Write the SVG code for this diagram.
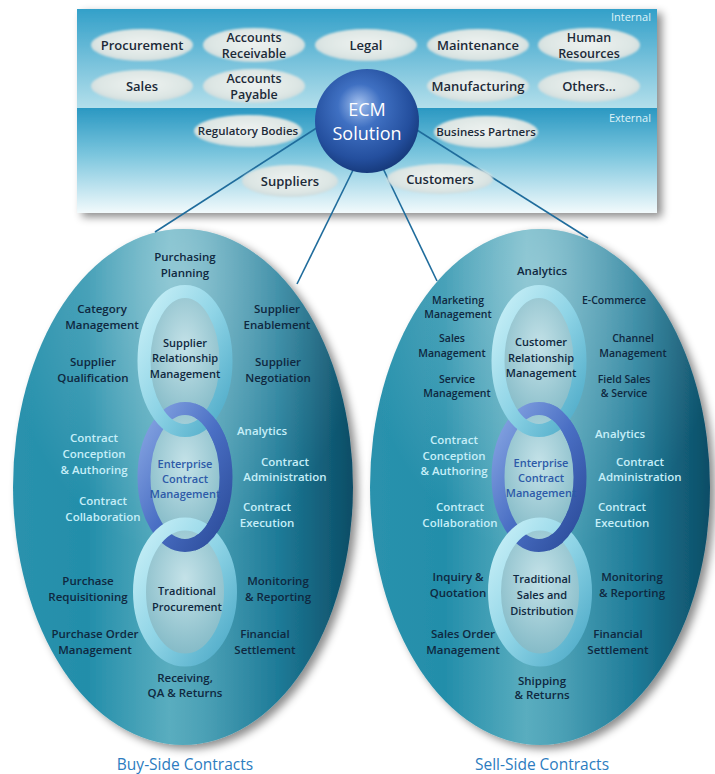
<svg xmlns="http://www.w3.org/2000/svg" width="715" height="774" viewBox="0 0 715 774">
<style>
.t{font-family:"Open Sans","Liberation Sans",sans-serif;font-weight:600;font-size:11.5px;text-anchor:middle;fill:#0f2840}
.lt{fill:#c6eef8}
.bl{fill:#2d5aa8}
.rc{font-size:11px}
.sm{font-size:10.5px}
.pl{font-size:13px;fill:#1c2a38}
.p2{font-size:12.5px;fill:#1c2a38}
.ps{font-size:11.5px;fill:#1c2a38}
.cap{font-weight:400;font-size:15.5px;fill:#2c7cc0}
.ecm{font-weight:400;font-size:18px;fill:#ffffff}
.zone{font-weight:400;font-size:11px;fill:#dff3f9;text-anchor:end}
.pill{fill:url(#gPill);filter:url(#soft)}
.inner{fill:url(#gInner)}
.rl{fill:none;stroke:url(#gRingL);stroke-width:13}
.rb{fill:none;stroke:url(#gRingB);stroke-width:13}
.con{stroke:#1f6c9c;stroke-width:1.6;fill:none}
</style>
<defs>
<linearGradient id="gIn" x1="0" y1="0" x2="0" y2="1"><stop offset="0" stop-color="#33a0c9"/><stop offset="1" stop-color="#b3dfeb"/></linearGradient>
<linearGradient id="gEx" x1="0" y1="0" x2="0" y2="1"><stop offset="0" stop-color="#2a98c2"/><stop offset="0.45" stop-color="#7cc6de"/><stop offset="1" stop-color="#f2fafc"/></linearGradient>
<radialGradient id="gPill" cx="0.5" cy="0.45" r="0.6"><stop offset="0" stop-color="#eef2f0"/><stop offset="0.7" stop-color="#dde6e4"/><stop offset="1" stop-color="#c9d8da"/></radialGradient>
<radialGradient id="gEcm" cx="0.45" cy="0.4" r="0.6" fx="0.42" fy="0.33"><stop offset="0" stop-color="#a3c0ee"/><stop offset="0.35" stop-color="#3f70c2"/><stop offset="0.8" stop-color="#244f9e"/><stop offset="1" stop-color="#173b7e"/></radialGradient>
<linearGradient id="gOval" x1="0" y1="0" x2="1" y2="0"><stop offset="0" stop-color="#2a92ad"/><stop offset="0.22" stop-color="#238eaa"/><stop offset="0.46" stop-color="#5aadbf"/><stop offset="0.56" stop-color="#4ca1b6"/><stop offset="0.78" stop-color="#1e7b98"/><stop offset="1" stop-color="#0c4d66"/></linearGradient>
<radialGradient id="gOvalHi" cx="0.5" cy="0.08" r="0.55"><stop offset="0" stop-color="#ffffff" stop-opacity="0.35"/><stop offset="1" stop-color="#ffffff" stop-opacity="0"/></radialGradient>
<linearGradient id="gRingL" x1="0" y1="0" x2="1" y2="1"><stop offset="0" stop-color="#cbf1f8"/><stop offset="0.5" stop-color="#8fd4e6"/><stop offset="1" stop-color="#4aa8c6"/></linearGradient>
<linearGradient id="gRingB" x1="0" y1="0" x2="1" y2="1"><stop offset="0" stop-color="#8aa8e4"/><stop offset="0.5" stop-color="#4a6fc4"/><stop offset="1" stop-color="#2a4a98"/></linearGradient>
<radialGradient id="gInner" cx="0.5" cy="0.4" r="0.6"><stop offset="0" stop-color="#c4e2e8"/><stop offset="1" stop-color="#80b8c5"/></radialGradient>
<filter id="sh" x="-10%" y="-10%" width="125%" height="125%"><feDropShadow dx="5" dy="4" stdDeviation="4" flood-color="#000000" flood-opacity="0.45"/></filter>
<filter id="soft" x="-10%" y="-20%" width="120%" height="140%"><feGaussianBlur stdDeviation="0.9"/></filter>
<clipPath id="cL1"><rect x="195" y="395" width="50" height="50"/></clipPath>
<clipPath id="cL2"><rect x="195" y="510" width="50" height="50"/></clipPath>
<clipPath id="cR1"><rect x="549" y="395" width="50" height="50"/></clipPath>
<clipPath id="cR2"><rect x="549" y="510" width="50" height="50"/></clipPath>
</defs>

<g id="banner">
<g filter="url(#sh)">
<rect x="77" y="9" width="580" height="99" fill="url(#gIn)"/>
<rect x="77" y="108" width="580" height="105" fill="url(#gEx)"/>
</g>
<text class="t zone" x="651" y="21">Internal</text>
<text class="t zone" x="651" y="122">External</text>
</g>

<g id="buy-side">
<ellipse cx="183" cy="487" rx="170" ry="258" fill="url(#gOval)" filter="url(#sh)"/>
<ellipse cx="183" cy="487" rx="170" ry="258" fill="url(#gOvalHi)"/>
<g id="buy-rings">
<ellipse class="inner" cx="185" cy="361" rx="41" ry="69.5"/>
<ellipse class="inner" cx="185" cy="477" rx="41" ry="68.5"/>
<ellipse class="inner" cx="185" cy="592" rx="45.5" ry="68"/>
<ellipse class="rb" cx="185" cy="477" rx="41" ry="68.5"/>
<ellipse class="rl" cx="185" cy="361" rx="41" ry="69.5"/>
<ellipse class="rl" cx="185" cy="592" rx="45.5" ry="68"/>
<ellipse class="rb" cx="185" cy="477" rx="41" ry="68.5" clip-path="url(#cL1)"/>
<ellipse class="rb" cx="185" cy="477" rx="41" ry="68.5" clip-path="url(#cL2)"/>
</g>
<g id="buy-srm"><text class="t rc"><tspan x="185" y="347">Supplier</tspan><tspan x="185" y="362">Relationship</tspan><tspan x="185" y="378">Management</tspan></text></g>
<g id="buy-ecm"><text class="t rc bl"><tspan x="185" y="468">Enterprise</tspan><tspan x="185" y="483">Contract</tspan><tspan x="185" y="498">Management</tspan></text></g>
<g id="buy-trad"><text class="t rc"><tspan x="187" y="595">Traditional</tspan><tspan x="187" y="611">Procurement</tspan></text></g>
<text class="t"><tspan x="185" y="261">Purchasing</tspan><tspan x="185" y="277">Planning</tspan></text>
<text class="t"><tspan x="102" y="313">Category</tspan><tspan x="102" y="329">Management</tspan></text>
<text class="t"><tspan x="277" y="313">Supplier</tspan><tspan x="277" y="329">Enablement</tspan></text>
<text class="t"><tspan x="93" y="366">Supplier</tspan><tspan x="93" y="382">Qualification</tspan></text>
<text class="t"><tspan x="278" y="366">Supplier</tspan><tspan x="278" y="382">Negotiation</tspan></text>
<text class="t lt" x="262" y="435">Analytics</text>
<text class="t lt"><tspan x="94" y="442">Contract</tspan><tspan x="94" y="458">Conception</tspan><tspan x="94" y="474">&amp; Authoring</tspan></text>
<text class="t lt"><tspan x="285" y="466">Contract</tspan><tspan x="285" y="481">Administration</tspan></text>
<text class="t lt"><tspan x="103" y="505">Contract</tspan><tspan x="103" y="521">Collaboration</tspan></text>
<text class="t lt"><tspan x="267" y="511">Contract</tspan><tspan x="267" y="527">Execution</tspan></text>
<text class="t"><tspan x="88" y="585">Purchase</tspan><tspan x="88" y="601">Requisitioning</tspan></text>
<text class="t"><tspan x="278" y="585">Monitoring</tspan><tspan x="278" y="601">&amp; Reporting</tspan></text>
<text class="t"><tspan x="95" y="638">Purchase Order</tspan><tspan x="95" y="654">Management</tspan></text>
<text class="t"><tspan x="265" y="638">Financial</tspan><tspan x="265" y="654">Settlement</tspan></text>
<text class="t"><tspan x="185" y="682">Receiving,</tspan><tspan x="185" y="697">QA &amp; Returns</tspan></text>
<text class="t cap" x="185" y="770">Buy-Side Contracts</text>
</g>

<g id="sell-side">
<ellipse cx="540" cy="487" rx="170" ry="258" fill="url(#gOval)" filter="url(#sh)"/>
<ellipse cx="540" cy="487" rx="170" ry="258" fill="url(#gOvalHi)"/>
<g id="sell-rings">
<ellipse class="inner" cx="539" cy="361" rx="41" ry="69.5"/>
<ellipse class="inner" cx="539" cy="477" rx="41" ry="68.5"/>
<ellipse class="inner" cx="540" cy="592" rx="45.5" ry="68"/>
<ellipse class="rb" cx="539" cy="477" rx="41" ry="68.5"/>
<ellipse class="rl" cx="539" cy="361" rx="41" ry="69.5"/>
<ellipse class="rl" cx="540" cy="592" rx="45.5" ry="68"/>
<ellipse class="rb" cx="539" cy="477" rx="41" ry="68.5" clip-path="url(#cR1)"/>
<ellipse class="rb" cx="539" cy="477" rx="41" ry="68.5" clip-path="url(#cR2)"/>
</g>
<g id="sell-crm"><text class="t rc"><tspan x="541" y="346">Customer</tspan><tspan x="541" y="362">Relationship</tspan><tspan x="541" y="377">Management</tspan></text></g>
<g id="sell-ecm"><text class="t rc bl"><tspan x="541" y="467">Enterprise</tspan><tspan x="541" y="482">Contract</tspan><tspan x="541" y="497">Management</tspan></text></g>
<g id="sell-trad"><text class="t rc"><tspan x="542" y="583">Traditional</tspan><tspan x="542" y="599">Sales and</tspan><tspan x="542" y="615">Distribution</tspan></text></g>
<text class="t" x="542" y="275">Analytics</text>
<text class="t sm"><tspan x="458" y="304">Marketing</tspan><tspan x="458" y="318">Management</tspan></text>
<text class="t sm" x="614" y="304">E-Commerce</text>
<text class="t sm"><tspan x="452" y="342">Sales</tspan><tspan x="452" y="357">Management</tspan></text>
<text class="t sm"><tspan x="633" y="342">Channel</tspan><tspan x="633" y="357">Management</tspan></text>
<text class="t sm"><tspan x="457" y="383">Service</tspan><tspan x="457" y="397">Management</tspan></text>
<text class="t sm"><tspan x="624" y="383">Field Sales</tspan><tspan x="624" y="397">&amp; Service</tspan></text>
<text class="t lt" x="620" y="438">Analytics</text>
<text class="t lt"><tspan x="454" y="444">Contract</tspan><tspan x="454" y="460">Conception</tspan><tspan x="454" y="475">&amp; Authoring</tspan></text>
<text class="t lt"><tspan x="640" y="466">Contract</tspan><tspan x="640" y="481">Administration</tspan></text>
<text class="t lt"><tspan x="460" y="511">Contract</tspan><tspan x="460" y="527">Collaboration</tspan></text>
<text class="t lt"><tspan x="622" y="511">Contract</tspan><tspan x="622" y="527">Execution</tspan></text>
<text class="t"><tspan x="458" y="581">Inquiry &amp;</tspan><tspan x="458" y="597">Quotation</tspan></text>
<text class="t"><tspan x="632" y="581">Monitoring</tspan><tspan x="632" y="597">&amp; Reporting</tspan></text>
<text class="t"><tspan x="463" y="638">Sales Order</tspan><tspan x="463" y="654">Management</tspan></text>
<text class="t"><tspan x="618" y="638">Financial</tspan><tspan x="618" y="654">Settlement</tspan></text>
<text class="t"><tspan x="542" y="685">Shipping</tspan><tspan x="542" y="699">&amp; Returns</tspan></text>
<text class="t cap" x="542" y="770">Sell-Side Contracts</text>
</g>

<g id="connectors">
<line class="con" x1="329" y1="120" x2="155" y2="232"/>
<line class="con" x1="358" y1="160" x2="297" y2="284"/>
<line class="con" x1="379" y1="160" x2="437" y2="281"/>
<line class="con" x1="409" y1="125" x2="588" y2="238"/>
</g>

<g id="p-procurement"><ellipse class="pill" cx="142" cy="45" rx="51" ry="16"/><text class="t pl" x="142" y="50">Procurement</text></g>
<g id="p-ar"><ellipse class="pill" cx="254" cy="45" rx="51" ry="17"/><text class="t p2"><tspan x="254" y="42">Accounts</tspan><tspan x="254" y="57.5">Receivable</tspan></text></g>
<g id="p-legal"><ellipse class="pill" cx="366" cy="45" rx="51" ry="16"/><text class="t pl" x="366" y="50">Legal</text></g>
<g id="p-maintenance"><ellipse class="pill" cx="478" cy="45" rx="51" ry="16"/><text class="t pl" x="478" y="50">Maintenance</text></g>
<g id="p-hr"><ellipse class="pill" cx="589" cy="45" rx="51" ry="17"/><text class="t p2"><tspan x="589" y="42">Human</tspan><tspan x="589" y="57.5">Resources</tspan></text></g>
<g id="p-sales"><ellipse class="pill" cx="142" cy="86" rx="51" ry="16"/><text class="t pl" x="142" y="90.5">Sales</text></g>
<g id="p-ap"><ellipse class="pill" cx="254" cy="86" rx="51" ry="17"/><text class="t p2"><tspan x="254" y="83">Accounts</tspan><tspan x="254" y="98.5">Payable</tspan></text></g>
<g id="p-manufacturing"><ellipse class="pill" cx="478" cy="86" rx="51" ry="16"/><text class="t pl" x="478" y="90.5">Manufacturing</text></g>
<g id="p-others"><ellipse class="pill" cx="589" cy="86" rx="51" ry="16"/><text class="t pl" x="589" y="90.5">Others...</text></g>
<g id="p-regulatory"><ellipse class="pill" cx="248" cy="131" rx="54" ry="16"/><text class="t ps" x="248" y="135">Regulatory Bodies</text></g>
<g id="p-partners"><ellipse class="pill" cx="486" cy="132" rx="52" ry="16"/><text class="t ps" x="486" y="136">Business Partners</text></g>
<g id="p-suppliers"><ellipse class="pill" cx="290" cy="181" rx="48" ry="16"/><text class="t pl" x="290" y="185.5">Suppliers</text></g>
<g id="p-customers"><ellipse class="pill" cx="440" cy="179" rx="53" ry="15"/><text class="t pl" x="440" y="183.5">Customers</text></g>

<g id="ecm-solution">
<circle cx="367" cy="121" r="52" fill="url(#gEcm)"/>
<text class="t ecm"><tspan x="367" y="115.5">ECM</tspan><tspan x="367" y="140">Solution</tspan></text>
</g>
</svg>
